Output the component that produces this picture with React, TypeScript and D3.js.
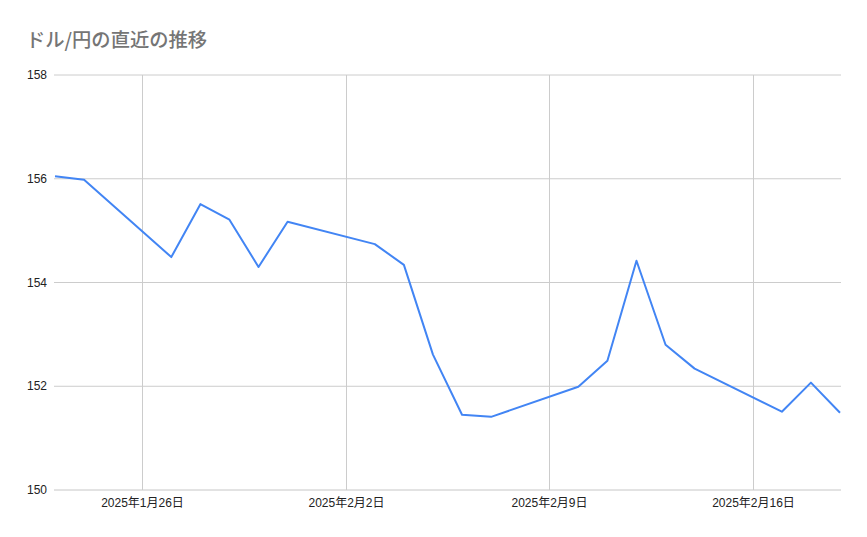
import React from "react";
import * as d3 from "d3";

const dates = [
  "2025-01-23", "2025-01-24", "2025-01-27", "2025-01-28", "2025-01-29", "2025-01-30", "2025-01-31",
  "2025-02-03", "2025-02-04", "2025-02-05", "2025-02-06", "2025-02-07",
  "2025-02-10", "2025-02-11", "2025-02-12", "2025-02-13", "2025-02-14",
  "2025-02-17", "2025-02-18", "2025-02-19",
];
const rates = [
  156.05, 155.98, 154.49, 155.51, 155.21, 154.30, 155.17,
  154.74, 154.34, 152.61, 151.45, 151.41,
  151.99, 152.49, 154.42, 152.80, 152.34,
  151.51, 152.07, 151.49,
];
const yTicks = [150, 152, 154, 156, 158];
const xTickDates = ["2025-01-26", "2025-02-02", "2025-02-09", "2025-02-16"];
const title = "ドル/円の直近の推移";

const W = 867, H = 537;
const L = 54, R = 841, T = 75, B = 490;

export default function App() {
  const parse = d3.timeParse("%Y-%m-%d");
  const data = dates.map((d, i) => ({ date: parse(d)!, v: rates[i] }));
  const x = d3.scaleTime()
    .domain([parse("2025-01-23")!, parse("2025-02-19")!])
    .range([L + 1, R - 1]);
  const y = d3.scaleLinear().domain([150, 158]).range([B, T]);
  const line = d3.line<{ date: Date; v: number }>()
    .x((d) => x(d.date))
    .y((d) => y(d.v));
  const fmt = (d: Date) => `${d.getFullYear()}年${d.getMonth() + 1}月${d.getDate()}日`;
  const font = "'Liberation Sans', Arial, 'Noto Sans CJK JP', sans-serif";

  return (
    <svg width={W} height={H} style={{ position: "absolute", left: 0, top: 0, background: "#fff" }}>
      <rect width={W} height={H} fill="#fff" />
      <text x={26} y={47} fontFamily="'Noto Sans CJK JP', sans-serif" fontSize={19.3} fontWeight={500} fill="#757575">
        {title}
      </text>
      {yTicks.map((t) => (
        <g key={t}>
          <line x1={L} x2={R} y1={y(t)} y2={y(t)} stroke={t === 150 ? "#c6c6c6" : "#cccccc"} strokeWidth={1} />
          <text x={47} y={y(t) + 4} textAnchor="end" fontFamily={font} fontSize={12} fill="#222">
            {t}
          </text>
        </g>
      ))}
      {xTickDates.map((s) => {
        const d = parse(s)!;
        const px = Math.round(x(d)) + 0.5;
        return (
          <g key={s}>
            <line x1={px} x2={px} y1={T} y2={B} stroke="#cccccc" strokeWidth={1} />
            <text x={px} y={B + 17} textAnchor="middle" fontFamily={font} fontSize={12} fill="#222">
              {fmt(d)}
            </text>
          </g>
        );
      })}
      <path d={line(data) || ""} fill="none" stroke="#4285f4" strokeWidth={2} strokeLinejoin="round" />
    </svg>
  );
}
